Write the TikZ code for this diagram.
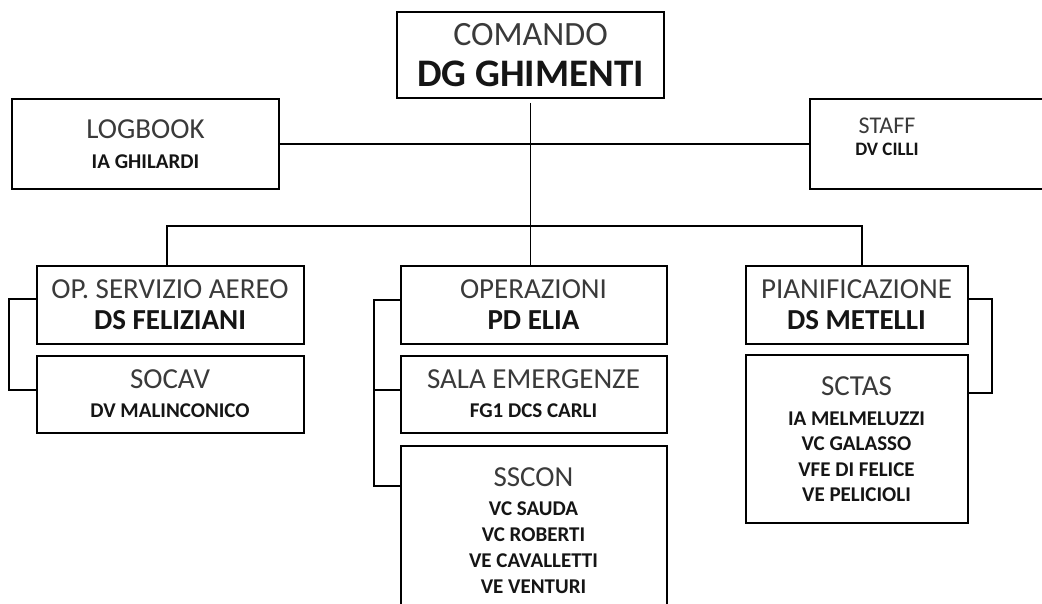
\documentclass[tikz,border=0pt]{standalone}
\usepackage{fontspec}
\setmainfont{Carlito}
\definecolor{ttl}{HTML}{3A3A3A}
\definecolor{nme}{HTML}{151515}
\newcommand\ttlsize[1]{\fontsize{#1}{#1}\selectfont\color{ttl}}
\newcommand\nmesize[1]{\fontsize{#1}{#1}\selectfont\bfseries\color{nme}}
\begin{document}
\begin{tikzpicture}[x=1pt,y=-1pt,
  box/.style={draw, line width=2pt, inner sep=0pt, outer sep=0pt, align=center, fill=white},
  conn/.style={line width=1.7pt}]
\useasboundingbox (0,0) rectangle (1042,604);
\clip (0,0) rectangle (1042,604);
\fill[white] (0,0) rectangle (1042,604);

\coordinate (busL) at (167,226);
\coordinate (busR) at (862,226);
\coordinate (brL) at (9,0);
\coordinate (brM) at (374,0);
\coordinate (brR) at (992,0);
\coordinate (yOpA) at (0,299);
\coordinate (yOpB) at (0,390);
\coordinate (yMA) at (0,300);
\coordinate (yMB) at (0,390);
\coordinate (yMC) at (0,486);
\coordinate (yRA) at (0,299);
\coordinate (yRB) at (0,393);

% boxes
\node[box, minimum width=267pt, minimum height=86pt, font=\fontsize{34}{41}\selectfont] (cmd) at (530.5,55)
  {{\ttlsize{34}COMANDO}\\{\nmesize{39}DG GHIMENTI}};
\node[box, minimum width=267pt, minimum height=90pt, font=\fontsize{21}{30}\selectfont] (log) at (145.5,144)
  {{\ttlsize{29}LOGBOOK}\\{\nmesize{21}IA GHILARDI}};
\node[box, minimum width=260pt, minimum height=90pt] (staff) at (940,144) {};
\node[inner sep=0pt, align=center, font=\fontsize{19}{22}\selectfont] (stafftext) at (887,137)
  {{\ttlsize{24}STAFF}\\{\nmesize{19}DV CILLI}};

\node[box, minimum width=267pt, minimum height=78pt, font=\fontsize{29}{31}\selectfont] (op) at (170,305)
  {{\ttlsize{29}OP. SERVIZIO AEREO}\\{\nmesize{29}DS FELIZIANI}};
\node[box, minimum width=267pt, minimum height=77pt, font=\fontsize{21}{29}\selectfont] (socav) at (170,394)
  {{\ttlsize{29}SOCAV}\\{\nmesize{21}DV MALINCONICO}};

\node[box, minimum width=266pt, minimum height=78pt, font=\fontsize{29}{31}\selectfont] (opz) at (533.5,305)
  {{\ttlsize{29}OPERAZIONI}\\{\nmesize{29}PD ELIA}};
\node[box, minimum width=266pt, minimum height=77pt, font=\fontsize{21}{29}\selectfont] (sala) at (533.5,394)
  {{\ttlsize{29}SALA EMERGENZE}\\{\nmesize{21}FG1 DCS CARLI}};
\node[box, minimum width=266pt, minimum height=170pt, font=\fontsize{21}{26}\selectfont] (sscon) at (533.5,531)
  {{\ttlsize{29}SSCON}\\[3pt]{\nmesize{21}VC SAUDA}\\{\nmesize{21}VC ROBERTI}\\{\nmesize{21}VE CAVALLETTI}\\{\nmesize{21}VE VENTURI}};

\node[box, minimum width=222pt, minimum height=168pt, font=\fontsize{21}{25.5}\selectfont] (sctas) at (856.5,439)
  {{\ttlsize{29}SCTAS}\\[4.5pt]{\nmesize{21}IA MELMELUZZI}\\{\nmesize{21}VC GALASSO}\\{\nmesize{21}VFE DI FELICE}\\{\nmesize{21}VE PELICIOLI}};
\node[box, minimum width=222pt, minimum height=78pt, font=\fontsize{29}{31}\selectfont] (pian) at (856.5,305)
  {{\ttlsize{29}PIANIFICAZIONE}\\{\nmesize{29}DS METELLI}};

% connectors
\draw[conn] (log.east) -- (staff.west);
\draw[conn, shorten <=5pt] (cmd.south) -- (cmd.south |- opz.north);
\draw[conn] (op.north -| busL) -- (busL) -- (busR) -- (pian.north -| busR);
\draw[conn] (op.west |- yOpA) -- (brL |- yOpA) -- (brL |- yOpB) -- (socav.west |- yOpB);
\draw[conn] (opz.west |- yMA) -- (brM |- yMA) -- (brM |- yMC) -- (sscon.west |- yMC);
\draw[conn] (brM |- yMB) -- (sala.west |- yMB);
\draw[conn] (pian.east |- yRA) -- (brR |- yRA) -- (brR |- yRB) -- (sctas.east |- yRB);
\end{tikzpicture}
\end{document}
